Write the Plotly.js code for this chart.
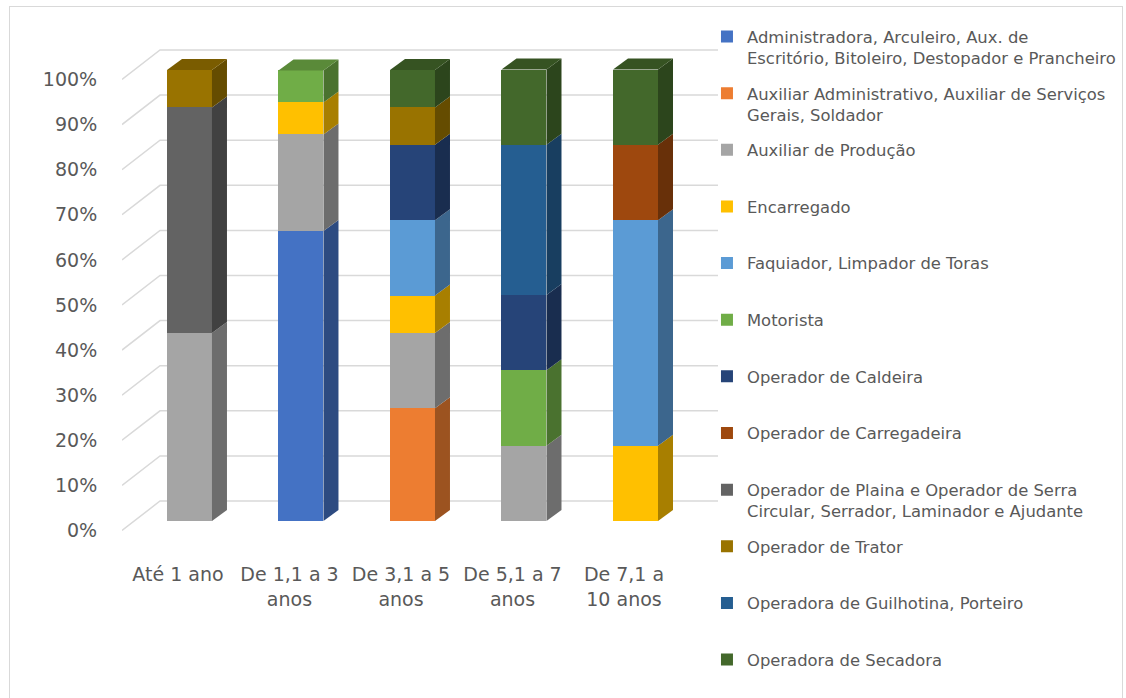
<!DOCTYPE html>
<html>
<head>
<meta charset="utf-8">
<script src="https://cdn.plot.ly/plotly-3.0.1.min.js"></script>
<style>
  html, body { margin: 0; padding: 0; background: #ffffff; }
  #chart { position: absolute; left: 0; top: 0; width: 1126px; height: 698px; }
  #frame { position: absolute; left: 9px; top: 6px; width: 1112px; height: 720px;
           border: 1px solid #d9d9d9; pointer-events: none; }
</style>
</head>
<body>
<div id="chart"></div>
<div id="frame"></div>
<script>
// ---------------- DATA ----------------
const categories = ["Até 1 ano", "De 1,1 a 3<br>anos", "De 3,1 a 5<br>anos", "De 5,1 a 7<br>anos", "De 7,1 a<br>10 anos"];

const seriesNames = [
  "Administradora, Arculeiro, Aux. de<br>Escritório, Bitoleiro, Destopador e Prancheiro",
  "Auxiliar Administrativo, Auxiliar de Serviços<br>Gerais, Soldador",
  "Auxiliar de Produção",
  "Encarregado",
  "Faquiador, Limpador de Toras",
  "Motorista",
  "Operador de Caldeira",
  "Operador de Carregadeira",
  "Operador de Plaina e Operador de Serra<br>Circular, Serrador, Laminador e Ajudante",
  "Operador de Trator",
  "Operadora de Guilhotina, Porteiro",
  "Operadora de Secadora"
];

// percentages per category (Até 1 ano, 1,1-3, 3,1-5, 5,1-7, 7,1-10)
const administradora    = [0, 64.3, 0, 0, 0];
const auxAdministrativo = [0, 0, 25.0, 0, 0];
const auxProducao       = [41.7, 21.4, 16.7, 16.7, 0];
const encarregado       = [0, 7.1, 8.3, 0, 16.7];
const faquiador         = [0, 0, 16.7, 0, 50.0];
const motorista         = [0, 7.1, 0, 16.7, 0];
const opCaldeira        = [0, 0, 16.7, 16.7, 0];
const opCarregadeira    = [0, 0, 0, 0, 16.7];
const opPlaina          = [50.0, 0, 0, 0, 0];
const opTrator          = [8.3, 0, 8.3, 0, 0];
const opGuilhotina      = [0, 0, 0, 33.3, 0];
const opSecadora        = [0, 0, 8.3, 16.7, 16.7];

const seriesValues = [administradora, auxAdministrativo, auxProducao, encarregado, faquiador,
  motorista, opCaldeira, opCarregadeira, opPlaina, opTrator, opGuilhotina, opSecadora];

const seriesColors = ["#4472C4", "#ED7D31", "#A5A5A5", "#FFC000", "#5B9BD5", "#70AD47",
  "#264478", "#9E480E", "#636363", "#997300", "#255E91", "#43682B"];

const yTickValues = [0, 10, 20, 30, 40, 50, 60, 70, 80, 90, 100];

// ---------------- STYLE / GEOMETRY ----------------
const xRange = [-0.502, 4.843];
const yRange = [-7.76, 106.65];
const barOffset = -0.0987, barWidth = 0.4036;
const depthX = 0.1345, depthY = 2.44;      // bar side depth (3D look)
const frontShift = -2.1, backShift = 4.43; // gridline front / back wall offsets
const xBackWall = -0.161;
const textColor = "#595959";
const font = "DejaVu Sans, Arial, sans-serif";

function shade(hex, f) {
  const n = parseInt(hex.slice(1), 16);
  const r = Math.round(((n >> 16) & 255) * f);
  const g = Math.round(((n >> 8) & 255) * f);
  const b = Math.round((n & 255) * f);
  return "rgb(" + r + "," + g + "," + b + ")";
}

const xIdx = categories.map((c, i) => i);
const traces = [];

// Front faces: stacked bars
seriesNames.forEach((name, s) => {
  const lines = name.split("<br>").length;
  traces.push({
    type: "bar",
    x: xIdx,
    y: seriesValues[s],
    name: lines === 1 ? name + "<br>\u00a0" : name,
    legendgroup: "g" + s,
    marker: { color: seriesColors[s], line: { width: 0 } },
    offset: barOffset,
    width: barWidth,
    hoverinfo: "skip"
  });
});

// Side and top faces computed from the stacked data
xIdx.forEach((xi) => {
  let cum = 0;
  let topColor = null;
  seriesValues.forEach((vals, s) => {
    const v = vals[xi];
    if (v <= 0) return;
    const y0 = cum, y1 = cum + v;
    cum = y1;
    topColor = seriesColors[s];
    const xr = xi + barOffset + barWidth;
    traces.push({
      type: "scatter", mode: "lines", fill: "toself",
      x: [xr, xr + depthX, xr + depthX, xr, xr],
      y: [y0, y0 + depthY, y1 + depthY, y1, y0],
      fillcolor: shade(seriesColors[s], 0.66),
      line: { width: 0 }, showlegend: false, hoverinfo: "skip"
    });
  });
  const xl = xi + barOffset, xr = xi + barOffset + barWidth;
  traces.push({
    type: "scatter", mode: "lines", fill: "toself",
    x: [xl, xl + depthX, xr + depthX, xr, xl],
    y: [cum, cum + depthY, cum + depthY, cum, cum],
    fillcolor: shade(topColor, 0.8),
    line: { width: 0 }, showlegend: false, hoverinfo: "skip"
  });
});

// Gridlines (front edge slanting to back wall)
const shapes = [];
yTickValues.forEach((t) => {
  shapes.push({
    type: "path", layer: "below", xref: "x", yref: "y",
    path: "M" + xRange[0] + "," + (t + frontShift) + " L" + xBackWall + "," + (t + backShift) +
          " L" + xRange[1] + "," + (t + backShift),
    line: { color: "#d9d9d9", width: 1.5 }
  });
});

const layout = {
  width: 1126, height: 698,
  margin: { l: 122, r: 408, t: 40, b: 142, pad: 0, autoexpand: false },
  paper_bgcolor: "#ffffff", plot_bgcolor: "rgba(0,0,0,0)",
  barmode: "stack",
  showlegend: true,
  font: { family: font, color: textColor },
  xaxis: {
    range: xRange, tickvals: xIdx, ticktext: categories,
    showgrid: false, zeroline: false, showline: false,
    ticks: "outside", ticklen: 1, tickcolor: "rgba(0,0,0,0)",
    tickfont: { size: 19, color: textColor, family: font }, fixedrange: true
  },
  yaxis: {
    range: yRange,
    tickvals: yTickValues.map(t => t + frontShift),
    ticktext: yTickValues.map(t => t + "%"),
    showgrid: false, zeroline: false, showline: false,
    ticks: "outside", ticklen: 20, tickcolor: "rgba(0,0,0,0)",
    tickfont: { size: 19, color: textColor, family: font }, fixedrange: true
  },
  legend: {
    x: 0.9815, xanchor: "left", y: 1.04, yanchor: "top",
    traceorder: "grouped", tracegroupgap: 11, valign: "top",
    maxheight: 690,
    font: { size: 16.4, color: textColor, family: font },
    bgcolor: "rgba(0,0,0,0)"
  },
  shapes: shapes
};

Plotly.newPlot("chart", traces, layout, { displayModeBar: false, staticPlot: true });
</script>
</body>
</html>
